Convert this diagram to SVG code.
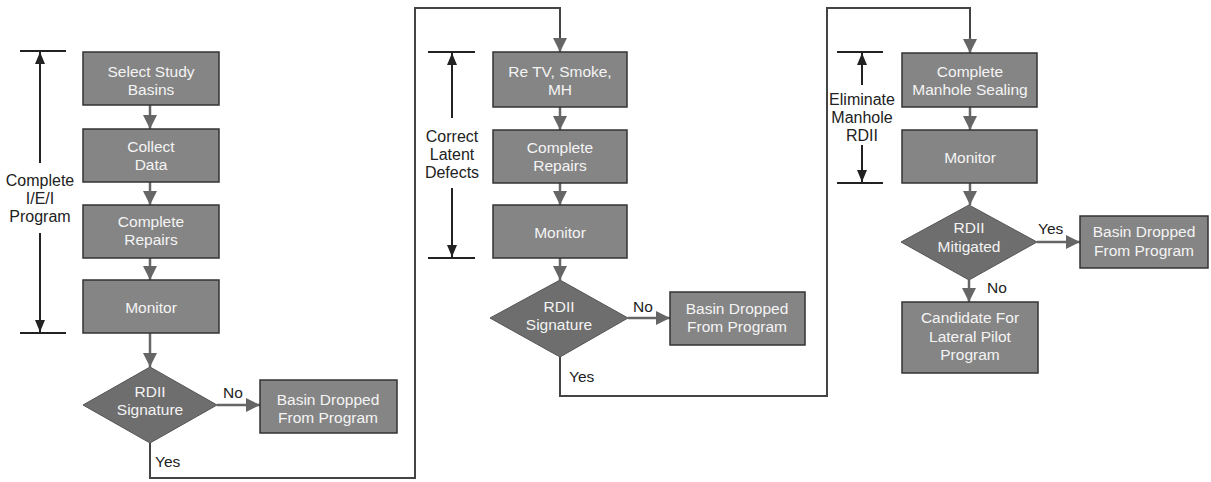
<svg xmlns="http://www.w3.org/2000/svg" width="1211" height="482" viewBox="0 0 1211 482">
<defs>
<marker id="ga" viewBox="0 0 14 14" refX="14" refY="7" markerWidth="14" markerHeight="14" markerUnits="userSpaceOnUse" orient="auto">
<path d="M0,0 L14,7 L0,14 z" fill="#666"/>
</marker>
<marker id="ba" viewBox="0 0 12 10" refX="12" refY="5" markerWidth="12" markerHeight="10" markerUnits="userSpaceOnUse" orient="auto">
<path d="M0,0 L12,5 L0,10 z" fill="#222"/>
</marker>
<style>
.box{fill:#858585;stroke:#333;stroke-width:1.5}
.dia{fill:#6e6e6e;stroke:#555;stroke-width:1}
.bt{font-family:"Liberation Sans",Arial,sans-serif;font-size:15.5px;fill:#f4f4f4;text-anchor:middle}
.lb{font-family:"Liberation Sans",Arial,sans-serif;font-size:15.5px;fill:#222}
.side{font-family:"Liberation Sans",Arial,sans-serif;font-size:16px;fill:#222;text-anchor:middle}
.arr{fill:none;stroke:#666;stroke-width:2.5;marker-end:url(#ga)}
.loop{fill:none;stroke:#444;stroke-width:2}
.br{fill:none;stroke:#222;stroke-width:2}
.bra{fill:none;stroke:#222;stroke-width:2;marker-end:url(#ba)}
</style>
</defs>
<rect width="1211" height="482" fill="#fff"/>

<g id="connectors">
<path class="arr" d="M150,105 V129"/>
<path class="arr" d="M150,182 V205"/>
<path class="arr" d="M150,258 V280"/>
<path class="arr" d="M150,333 V367"/>
<path class="arr" d="M217,405 H260"/>
<path class="loop" d="M150,443 V478 H415 V8 H560 V40"/>
<path class="arr" d="M560,38 V52"/>
<path class="arr" d="M560,107 V130"/>
<path class="arr" d="M560,183 V205"/>
<path class="arr" d="M560,258 V280"/>
<path class="arr" d="M628,318 H670"/>
<path class="loop" d="M560,357 V396 H827 V8 H970 V40"/>
<path class="arr" d="M970,38 V53"/>
<path class="arr" d="M970,107 V130"/>
<path class="arr" d="M970,183 V205"/>
<path class="arr" d="M1037,242 H1080"/>
<path class="arr" d="M969,280 V302"/>
</g>

<g id="bracket-left">
<path class="br" d="M20,51 H66 M20,333 H66"/>
<path class="bra" d="M40,163 V52"/>
<path class="bra" d="M40,233 V332"/>
<text class="side" x="40" y="186">Complete</text>
<text class="side" x="40" y="204">I/E/I</text>
<text class="side" x="40" y="222">Program</text>
</g>
<g id="bracket-middle">
<path class="br" d="M428,52 H475 M428,258 H475"/>
<path class="bra" d="M452,118 V53"/>
<path class="bra" d="M452,188 V257"/>
<text class="side" x="452" y="142">Correct</text>
<text class="side" x="452" y="160">Latent</text>
<text class="side" x="452" y="178">Defects</text>
</g>
<g id="bracket-right">
<path class="br" d="M837,52 H883 M837,183 H883"/>
<path class="bra" d="M862,85 V53"/>
<path class="bra" d="M862,145 V182"/>
<text class="side" x="862" y="105">Eliminate</text>
<text class="side" x="862" y="123">Manhole</text>
<text class="side" x="862" y="141">RDII</text>
</g>

<g id="n-select">
<rect class="box" x="83" y="52" width="136" height="53"/>
<text class="bt" x="151" y="77">Select Study</text>
<text class="bt" x="151" y="95">Basins</text>
</g>
<g id="n-collect">
<rect class="box" x="83" y="129" width="136" height="53"/>
<text class="bt" x="151" y="152">Collect</text>
<text class="bt" x="151" y="170">Data</text>
</g>
<g id="n-repairs1">
<rect class="box" x="83" y="205" width="136" height="53"/>
<text class="bt" x="151" y="227">Complete</text>
<text class="bt" x="151" y="245">Repairs</text>
</g>
<g id="n-monitor1">
<rect class="box" x="83" y="280" width="136" height="53"/>
<text class="bt" x="151" y="313">Monitor</text>
</g>
<g id="n-sig1">
<polygon class="dia" points="83,405 150,367 217,405 150,443"/>
<text class="bt" x="150" y="397">RDII</text>
<text class="bt" x="150" y="415">Signature</text>
</g>
<g id="n-drop1">
<rect class="box" x="260" y="380" width="137" height="53"/>
<text class="bt" x="328" y="405">Basin Dropped</text>
<text class="bt" x="328" y="423">From Program</text>
</g>
<text class="lb" x="223" y="398">No</text>
<text class="lb" x="155" y="467">Yes</text>

<g id="n-retv">
<rect class="box" x="493" y="52" width="134" height="55"/>
<text class="bt" x="560" y="77">Re TV, Smoke,</text>
<text class="bt" x="560" y="95">MH</text>
</g>
<g id="n-repairs2">
<rect class="box" x="493" y="130" width="134" height="53"/>
<text class="bt" x="560" y="153">Complete</text>
<text class="bt" x="560" y="171">Repairs</text>
</g>
<g id="n-monitor2">
<rect class="box" x="493" y="205" width="134" height="53"/>
<text class="bt" x="560" y="238">Monitor</text>
</g>
<g id="n-sig2">
<polygon class="dia" points="490,318 560,280 628,318 560,357"/>
<text class="bt" x="559" y="312">RDII</text>
<text class="bt" x="559" y="330">Signature</text>
</g>
<g id="n-drop2">
<rect class="box" x="670" y="292" width="135" height="53"/>
<text class="bt" x="737" y="314">Basin Dropped</text>
<text class="bt" x="737" y="332">From Program</text>
</g>
<text class="lb" x="633" y="312">No</text>
<text class="lb" x="569" y="382">Yes</text>

<g id="n-sealing">
<rect class="box" x="902" y="53" width="135" height="54"/>
<text class="bt" x="970" y="77">Complete</text>
<text class="bt" x="970" y="95">Manhole Sealing</text>
</g>
<g id="n-monitor3">
<rect class="box" x="902" y="130" width="135" height="53"/>
<text class="bt" x="970" y="163">Monitor</text>
</g>
<g id="n-mitigated">
<polygon class="dia" points="901,242 969,205 1037,242 969,280"/>
<text class="bt" x="969" y="233">RDII</text>
<text class="bt" x="969" y="252">Mitigated</text>
</g>
<g id="n-drop3">
<rect class="box" x="1080" y="216" width="128" height="52"/>
<text class="bt" x="1144" y="237">Basin Dropped</text>
<text class="bt" x="1144" y="256">From Program</text>
</g>
<g id="n-candidate">
<rect class="box" x="902" y="302" width="136" height="71"/>
<text class="bt" x="970" y="323">Candidate For</text>
<text class="bt" x="970" y="342">Lateral Pilot</text>
<text class="bt" x="970" y="360">Program</text>
</g>
<text class="lb" x="1038" y="234">Yes</text>
<text class="lb" x="987" y="293">No</text>
</svg>
